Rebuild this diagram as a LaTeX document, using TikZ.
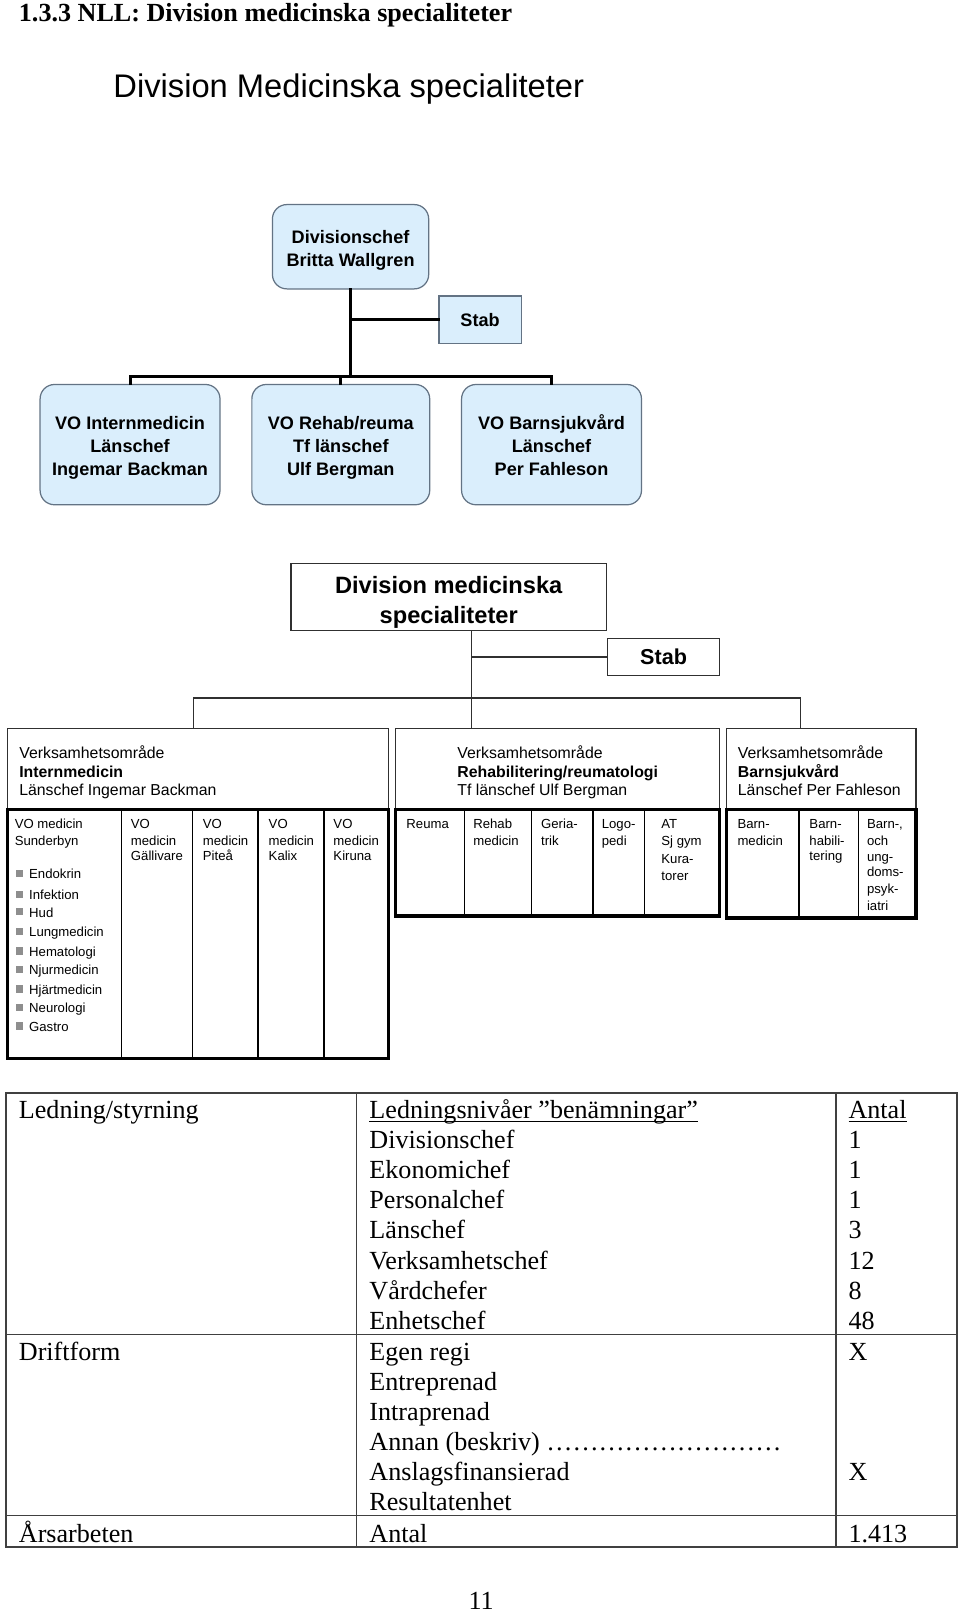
\documentclass[tikz,border=0pt]{standalone}
\usepackage{fontspec}
\setmainfont{Liberation Serif}
\newfontfamily\arial{Liberation Sans}
\definecolor{lightblue}{HTML}{DAEEFC}
\definecolor{boxgray}{HTML}{637384}
\definecolor{darkline}{HTML}{303030}
\definecolor{tabgray}{HTML}{404040}
\definecolor{bulletgray}{HTML}{8E8E8E}
\newcommand\myul[1]{\setbox0\hbox{#1}\rlap{\rule[-1.6pt]{\wd0}{0.6pt}}\box0}
\tikzset{
  c1box/.style={draw=boxgray, line width=0.6pt, fill=lightblue, rounded corners=7pt,
    align=center, inner sep=0pt, font=\arial\bfseries\fontsize{8.8}{11}\selectfont},
  c1conn/.style={line width=1.5pt, black, line cap=rect},
  c2box/.style={draw=darkline, line width=0.6pt, fill=white, inner sep=0pt},
  c2conn/.style={line width=0.6pt, darkline},
  thickbox/.style={draw=black, line width=1.5pt, inner sep=0pt},
  divider/.style={line width=0.7pt, black},
  coltext/.style={anchor=base west, inner sep=0pt, font=\arial\fontsize{6.4}{7.7}\selectfont},
  hdrtext/.style={align=left, inner sep=0pt, font=\arial\fontsize{7.7}{9}\selectfont},
  tabtext/.style={anchor=base west, inner sep=0pt, font=\fontsize{12.7}{14}\selectfont},
  tabline/.style={line width=0.7pt, tabgray},
}
\begin{document}
\begin{tikzpicture}[x=0.5pt,y=-0.5pt]
\useasboundingbox (0,0) rectangle (934,1570);

% titles
\node[anchor=base west, inner sep=0pt, font=\bfseries\fontsize{12.7}{14}\selectfont] (title) at (18,21) {1.3.3 NLL: Division medicinska specialiteter};
\node[anchor=base west, inner sep=0pt, font=\arial\fontsize{15.9}{18}\selectfont] (heading) at (110,95) {Division Medicinska specialiteter};

% ---------- org chart 1 ----------
\node[c1box, minimum width=76pt, minimum height=41pt] (div) at (341,240) {\vphantom{Å}Divisionschef\\\smash{Britta Wallgren}};
\node[c1box, sharp corners, minimum width=40pt, minimum height=23pt] (stab1) at (467,311) {Stab};
\node[c1box, minimum width=87.5pt, minimum height=58.5pt] (vo1) at (126.5,432.5) {\vphantom{Å}VO Internmedicin\\Länschef\\\smash{Ingemar Backman}};
\node[c1box, minimum width=86.5pt, minimum height=58.5pt] (vo2) at (331.5,432.5) {\vphantom{Å}VO Rehab/reuma\\Tf länschef\\\smash{Ulf Bergman}};
\node[c1box, minimum width=87.5pt, minimum height=58.5pt] (vo3) at (536.5,432.5) {\vphantom{Å}VO Barnsjukvård\\Länschef\\\smash{Per Fahleson}};
\coordinate (bar1) at (0,366);
\draw[c1conn] (div.south) -- (div.south |- bar1);
\draw[c1conn] (stab1.west) -- (stab1.west -| div.south);
\draw[c1conn] (vo1.north) -- (vo1.north |- bar1) -- (vo3.north |- bar1) -- (vo3.north);
\draw[c1conn] (vo2.north) -- (vo2.north |- bar1);

% ---------- org chart 2 ----------
\node[c2box, minimum width=153.5pt, minimum height=32.5pt] (dm) at (436.5,580.5) {};
\node[align=center, inner sep=0pt, font=\arial\bfseries\fontsize{11.5}{14.5}\selectfont] (dmt) at ([yshift=-2.6pt]dm.center) {Division medicinska\\specialiteter};
\node[c2box, minimum width=54.5pt, minimum height=18pt,
  font=\arial\bfseries\fontsize{10.5}{12}\selectfont] (stab2) at (645.5,639) {Stab};
\coordinate (trunk) at (459,679);
\coordinate (d1) at (188,679);
\coordinate (d3) at (779,679);

\node[c2box, minimum width=185.5pt, minimum height=39pt] (h1) at (192.5,748) {};
\node[c2box, minimum width=157.5pt, minimum height=39pt] (h2) at (542.5,748) {};
\node[c2box, minimum width=92pt, minimum height=39pt] (h3) at (799,748) {};
\node[hdrtext, anchor=west] (h1t) at ([xshift=6pt, yshift=-0.9pt]h1.west)
  {Verksamhetsområde\\\textbf{Internmedicin}\\\smash{Länschef Ingemar Backman}};
\node[hdrtext] (h2t) at ([yshift=-0.9pt]h2.center)
  {Verksamhetsområde\\\textbf{Rehabilitering/reumatologi}\\\smash{Tf länschef Ulf Bergman}};
\node[hdrtext] (h3t) at ([xshift=-1pt, yshift=-0.9pt]h3.center)
  {Verksamhetsområde\\\textbf{Barnsjukvård}\\\smash{Länschef Per Fahleson}};

\draw[c2conn] (dm.south -| trunk) -- (trunk |- h2.north);
\draw[c2conn] (stab2.west) -- (stab2.west -| trunk);
\draw[c2conn] (h1.north -| d1) -- (d1) -- (d3) -- (h3.north -| d3);

\node[thickbox, minimum width=185.5pt, minimum height=121.5pt] (l1) at (192.5,908.5) {};
\node[thickbox, minimum width=157.5pt, minimum height=52pt] (l2) at (542.5,839) {};
\node[thickbox, minimum width=92pt, minimum height=53pt] (l3) at (799,840) {};
\foreach \x in {118,187,251,315} \draw[divider] (\x,787) -- (\x,1030);
\foreach \x in {452,517,577,627} \draw[divider] (\x,787) -- (\x,891);
\foreach \x in {777,835} \draw[divider] (\x,787) -- (\x,893);

% column texts, internmedicin
\node[coltext] (s1) at (14,806) {VO medicin};
\node[coltext] (s2) at (14,822) {Sunderbyn};
\foreach \t/\y [count=\i] in {Endokrin/855, Infektion/875, Hud/892, Lungmedicin/911,
  Hematologi/930, Njurmedicin/948, Hjärtmedicin/967, Neurologi/985, Gastro/1003}{
  \fill[bulletgray] (15.5,\y-8.5) rectangle (22.5,\y-1.5);
  \node[coltext] (b\i) at (28,\y) {\t};
}
\foreach \x/\place [count=\i] in {127/Gällivare, 197/Piteå, 261/Kalix, 324/Kiruna}{
  \node[coltext] (vo\i a) at (\x,806) {VO};
  \node[coltext] (vo\i b) at (\x,822) {medicin};
  \node[coltext] (vo\i c) at (\x,837) {\place};
}
% rehab
\node[coltext] (r1) at (395,806) {Reuma};
\node[coltext] (r2a) at (460,806) {Rehab};
\node[coltext] (r2b) at (460,822) {medicin};
\node[coltext] (r3a) at (526,806) {Geria-};
\node[coltext] (r3b) at (526,822) {trik};
\node[coltext] (r4a) at (585,806) {Logo-};
\node[coltext] (r4b) at (585,822) {pedi};
\node[coltext] (r5a) at (643,806) {AT};
\node[coltext] (r5b) at (643,822) {Sj gym};
\node[coltext] (r5c) at (643,840) {Kura-};
\node[coltext] (r5d) at (643,856) {torer};
% barn
\node[coltext] (k1a) at (717,806) {Barn-};
\node[coltext] (k1b) at (717,822) {medicin};
\node[coltext] (k2a) at (787,806) {Barn-};
\node[coltext] (k2b) at (787,822) {habili-};
\node[coltext] (k2c) at (787,837) {tering};
\foreach \t/\y [count=\i] in {{Barn-,}/806, och/822, ung-/838, doms-/853, psyk-/869, iatri/886}
  \node[coltext] (k3\i) at (843,\y) {\t};

% ---------- table ----------
\draw[tabline] (6,1063) rectangle (931,1505);
\draw[tabline] (6,1298) -- (931,1298);
\draw[tabline] (6,1474) -- (931,1474);
\draw[tabline] (347,1063) -- (347,1505);
\draw[tabline] (813,1063) -- (813,1505);

\node[tabtext] (ta1) at (18,1088) {Ledning/styrning};
\node[tabtext] (ta2) at (18,1323) {Driftform};
\node[tabtext] (ta3) at (18,1500) {Årsarbeten};
\node[tabtext] (tb0) at (359,1088) {\myul{Ledningsnivåer ”benämningar”}};
\node[tabtext] (tc0) at (825,1088) {\myul{Antal}};
\foreach \t/\n [count=\i] in {Divisionschef/1, Ekonomichef/1, Personalchef/1, Länschef/3,
  Verksamhetschef/12, Vårdchefer/8, Enhetschef/48}{
  \node[tabtext] (tb\i) at (359,1088+29.3*\i) {\t};
  \node[tabtext] (tc\i) at (825,1088+29.3*\i) {\n};
}
\foreach \t [count=\i from 0] in {Egen regi, Entreprenad, Intraprenad, Annan (beskriv) ………………………, Anslagsfinansierad, Resultatenhet}
  \node[tabtext] (td\i) at (359,1323+29.3*\i) {\t};
\node[tabtext] (tx1) at (825,1323) {X};
\node[tabtext] (tx2) at (825,1440.2) {X};
\node[tabtext] (tb9) at (359,1500) {Antal};
\node[tabtext] (tc9) at (825,1500) {1.413};

\node[anchor=base, inner sep=0pt, font=\fontsize{12.7}{14}\selectfont] (pagenum) at (468,1566) {11};
\end{tikzpicture}
\end{document}
